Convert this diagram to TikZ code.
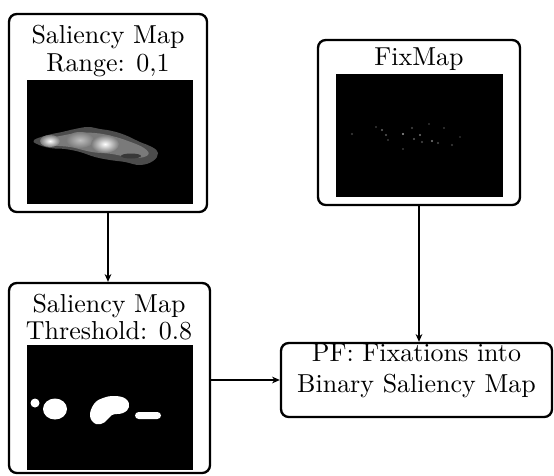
\documentclass[tikz,border=0pt]{standalone}
\usepackage{tikz}
\usetikzlibrary{arrows.meta, positioning, fit}

\tikzset{
  mapbox/.style={draw, line width=0.9pt, rounded corners=3pt, inner sep=0pt},
  maptitle/.style={align=center, inner sep=0pt},
  flow/.style={-{Stealth[length=3pt, width=2.6pt]}, thin}
}

\begin{document}
\begin{tikzpicture}[x=0.385pt, y=-0.385pt]
  \useasboundingbox (0,0) rectangle (554,475);

  % Boxes
  \node[mapbox, fit={(9,14) (207,212)}] (salmap) {};
  \node[mapbox, fit={(318,40) (520,205)}] (fixmap) {};
  \node[mapbox, fit={(9,283) (210,473)}] (thresh) {};
  \node[mapbox, fit={(281,343) (552,417)}, align=center] (pf) {PF: Fixations into\\Binary Saliency Map};

  % Titles
  \node[maptitle] (salmaptitle) at (108,51) {Saliency Map\\[-1pt]Range: 0,1};
  \node[maptitle] (fixmaptitle) at (419,59) {FixMap};
  \node[maptitle] (threshtitle) at (109,317) {Saliency Map\\[-1.6pt]Threshold: 0.8};

  % Saliency map image
  \fill[black] (27,80) rectangle (193,204);
  \fill[white!30!black] plot[smooth cycle, tension=0.7] coordinates {
    (34,140) (48,135) (62,132) (75,129) (88,127) (100,129) (112,131) (125,135)
    (140,142) (152,147) (158,153) (153,161) (140,165) (125,162) (110,160)
    (95,157) (80,152) (65,149) (50,148) (37,144)
  };
  \fill[white!48!black] plot[smooth cycle, tension=0.7] coordinates {
    (42,140) (60,136) (78,133) (95,133) (112,136) (128,141) (144,148)
    (148,155) (134,158) (112,154) (92,152) (70,147) (50,145)
  };
  \shade[inner color=white!75!black, outer color=white!48!black] (80,140) ellipse [x radius=14, y radius=8];
  \shade[inner color=white, outer color=white!48!black] (50,141) ellipse [x radius=10, y radius=6];
  \shade[inner color=white, outer color=white!48!black] (105,144) ellipse [x radius=14, y radius=9];
  \fill[white!22!black] (131,156) ellipse [x radius=10, y radius=2.5];

  % FixMap image
  \fill[black] (336,74) rectangle (503,197);
  \foreach \x/\y/\c in {352/134/25, 382/130/40, 386/135/35, 388/140/22, 403/134/60,
      420/135/45, 414/139/35, 422/142/30, 432/141/50, 412/128/28, 438/143/30,
      452/145/25, 403/149/22, 444/128/22, 376/127/22, 429/124/20, 460/137/18} {
    \fill[white!\c!black] (\x,\y) circle (1.1);
  }

  % Thresholded map image
  \fill[black] (27,345) rectangle (193,470);
  \fill[white] (35,403) circle (4.5);
  \fill[white] (55,409) ellipse [x radius=12, y radius=10.5];
  \fill[white] plot[smooth cycle, tension=0.7] coordinates {
    (90,416) (94,404) (103,398) (115,396) (126,399) (129,407) (123,413)
    (112,415) (105,422) (96,424)
  };
  \fill[white, rounded corners=1.4pt] (135,412) rectangle (161,419);

  % Arrows
  \draw[flow] (salmap.south) -- (salmap.south |- thresh.north);
  \draw[flow, semithick] (fixmap.south) -- (fixmap.south |- pf.north);
  \draw[flow] (thresh.east |- pf.west) -- (pf.west);
\end{tikzpicture}
\end{document}
